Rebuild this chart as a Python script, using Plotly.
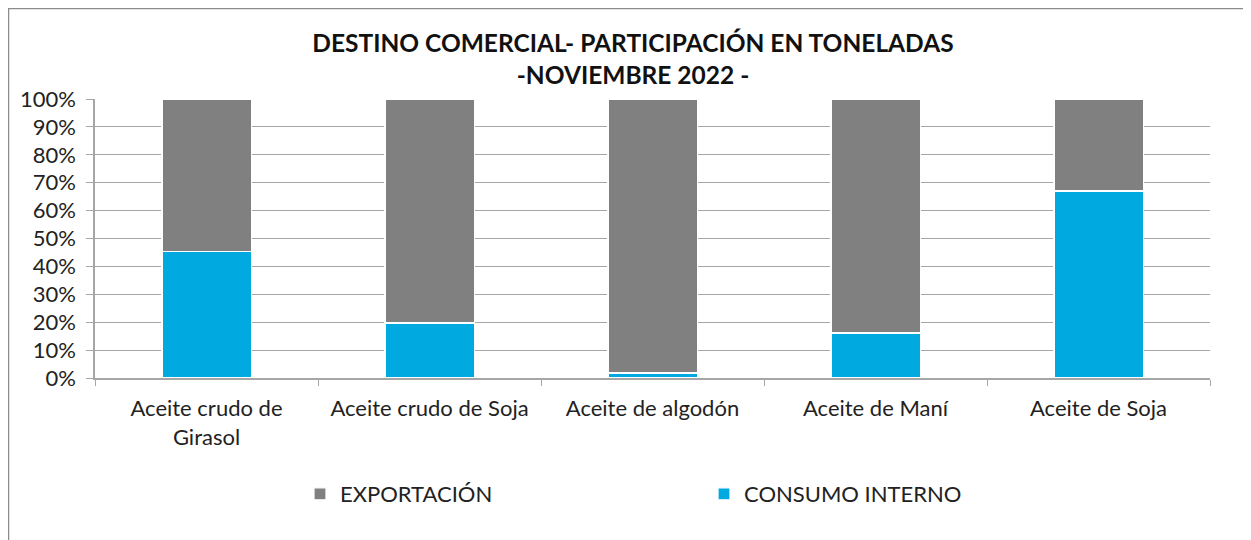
import plotly.graph_objects as go

categories = ["Aceite crudo de<br>Girasol", "Aceite crudo de Soja", "Aceite de algodón",
              "Aceite de Maní", "Aceite de Soja"]
consumo_interno = [0.452, 0.197, 0.018, 0.161, 0.670]
exportacion = [1 - v for v in consumo_interno]
tick_vals = [i / 10 for i in range(11)]
tick_text = [f"{i * 10}%" for i in range(11)]

FONT = "Lato, Calibri, 'Open Sans', sans-serif"

fig = go.Figure()
fig.add_trace(go.Bar(
    x=categories, y=consumo_interno, name="CONSUMO INTERNO",
    marker=dict(color="#00a9e0", line=dict(color="white", width=1.2)),
))
fig.add_trace(go.Bar(
    x=categories, y=exportacion, name="EXPORTACIÓN",
    marker=dict(color="#808080", line=dict(color="white", width=1.2)),
))

# page offset (body margin) of 8 px
OFF = 8
W, H = 1243, 532
L, T = 95 - OFF, 99 - OFF
R = W - (1210 - OFF)
B = H - (378 - OFF)
pw, ph = W - L - R, H - T - B

def px_x(p):
    return (p - OFF - L) / pw

def px_y(p):
    return (H - B - (p - OFF)) / ph

fig.update_layout(
    width=W, height=H,
    barmode="stack", bargap=0.6,
    plot_bgcolor="white", paper_bgcolor="white",
    margin=dict(l=L, r=R, t=T, b=B),
    font=dict(family=FONT, color="#222222", size=22),
    title=dict(
        text="<b>DESTINO COMERCIAL- PARTICIPACIÓN EN TONELADAS<br>-NOVIEMBRE 2022 -</b>",
        x=px_x(633), xref="paper", xanchor="center",
        y=1 - (52 - OFF) / H, yref="container", yanchor="middle",
        font=dict(family=FONT, size=24.5, color="#111111"),
    ),
    xaxis=dict(
        showgrid=False, showline=True, linecolor="#a6a6a6", linewidth=1.5,
        ticks="outside", tickson="boundaries", ticklen=6, tickcolor="#a6a6a6",
        tickfont=dict(size=22, color="#222222"), ticklabelstandoff=10,
    ),
    yaxis=dict(
        range=[0, 1], tickvals=tick_vals, ticktext=tick_text,
        showgrid=True, gridcolor="#a6a6a6", gridwidth=1.2,
        showline=True, linecolor="#a6a6a6", linewidth=1.5,
        ticks="outside", ticklen=7, tickcolor="#a6a6a6",
        tickfont=dict(size=22, color="#222222"), zeroline=False,
        ticklabelstandoff=6,
    ),
    legend=dict(
        orientation="h", traceorder="reversed",
        x=px_x(300), xanchor="left", y=px_y(494), yanchor="middle",
        entrywidth=359, entrywidthmode="pixels",
        font=dict(size=22, color="#222222"),
    ),
    shapes=[dict(
        type="rect", xref="paper", yref="paper",
        x0=px_x(8.5), x1=px_x(1290), y0=px_y(580), y1=px_y(8.5),
        line=dict(color="#8c8c8c", width=1.5), fillcolor="rgba(0,0,0,0)",
        layer="below",
    )],
)

fig.write_html("out.html")
